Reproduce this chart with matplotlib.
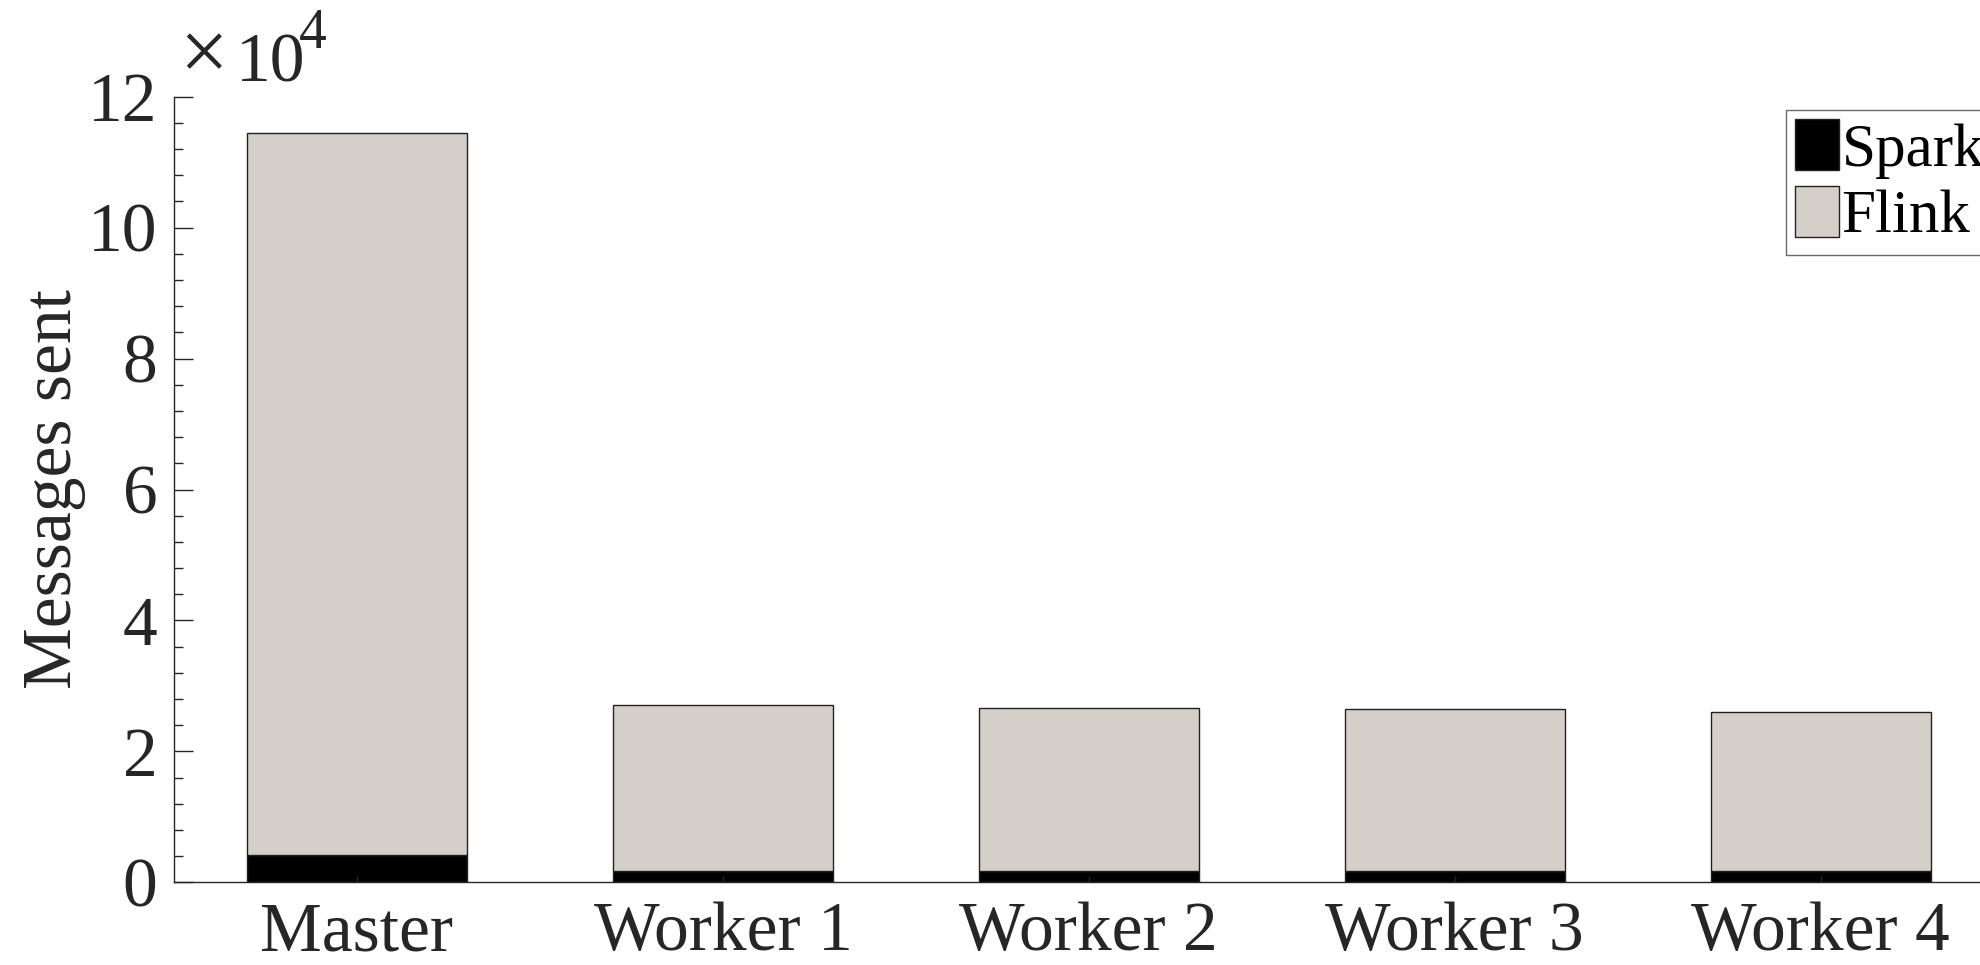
#!/usr/bin/env python3

# Stacked bar chart of messages sent per node, Spark vs Flink.
import matplotlib.pyplot as plt
from matplotlib.ticker import MultipleLocator, FuncFormatter

IMAGEFILE = 'out.png'

# Data
NODES = ['Master', 'Worker 1', 'Worker 2', 'Worker 3', 'Worker 4']
SPARK = [4100, 1700, 1700, 1700, 1700]
FLINK = [110400, 25400, 25000, 24800, 24300]

COLOR = ['#000000', '#d4d0c9']
LABEL = ['Spark', 'Flink']
TEXT_COLOR = '#262626'

plt.rcParams['font.family'] = ['Liberation Serif', 'DejaVu Serif']
plt.rcParams['font.size'] = 50

W, H = 1981, 965
fig = plt.figure(figsize=(W / 100, H / 100), dpi=100)
ax = fig.add_axes([174 / W, 82.7 / H, 1829.7 / W, 785.6 / H])

x = range(1, len(NODES) + 1)
ax.bar(x, SPARK, width=0.6, color=COLOR[0], edgecolor='#222222', linewidth=1, label=LABEL[0])
ax.bar(x, FLINK, width=0.6, bottom=SPARK, color=COLOR[1], edgecolor='#222222', linewidth=1,
       label=LABEL[1])

ax.set_xlim(0.5, 5.5)
ax.set_ylim(0, 12e4)
ax.set_xticks(list(x))
ax.set_xticklabels(NODES)
ax.yaxis.set_major_locator(MultipleLocator(2e4))
ax.yaxis.set_minor_locator(MultipleLocator(0.4e4))
ax.yaxis.set_major_formatter(FuncFormatter(lambda v, p: '{:g}'.format(v / 1e4)))

for side in ['top', 'right']:
    ax.spines[side].set_visible(False)
for side in ['left', 'bottom']:
    ax.spines[side].set_color(TEXT_COLOR)
    ax.spines[side].set_linewidth(1)

# tick sizes are in points (1 px = 0.72 pt at dpi 100)
ax.tick_params(axis='both', which='both', direction='in', colors=TEXT_COLOR, width=1)
ax.tick_params(axis='y', which='major', length=13.5, pad=12)
ax.tick_params(axis='y', which='minor', length=6.5)
ax.tick_params(axis='x', which='major', length=4, pad=14)

ax.set_ylabel('Messages sent', color=TEXT_COLOR, labelpad=1)

# Exponent label in the corner, MATLAB style
fig.text(179 / W, 1 - 80 / H, '\u00d7', fontsize=62, color=TEXT_COLOR, va='baseline', ha='left')
fig.text(236 / W, 1 - 82 / H, '10', fontsize=50, color=TEXT_COLOR, va='baseline', ha='left')
fig.text(299 / W, 1 - 48 / H, '4', fontsize=40, color=TEXT_COLOR, va='baseline', ha='left')

leg = ax.legend(loc='upper left', bbox_to_anchor=(1786 / W, 1 - 110 / H),
                bbox_transform=fig.transFigure, fontsize=44, frameon=True, fancybox=False,
                handlelength=0.72, handleheight=0.9, handletextpad=0.04, borderpad=0.15,
                labelspacing=0.12, borderaxespad=0)
leg.get_frame().set_edgecolor('#444444')
leg.get_frame().set_linewidth(1)
for text in leg.get_texts():
    text.set_color('#000000')

fig.savefig(IMAGEFILE, dpi=100)
